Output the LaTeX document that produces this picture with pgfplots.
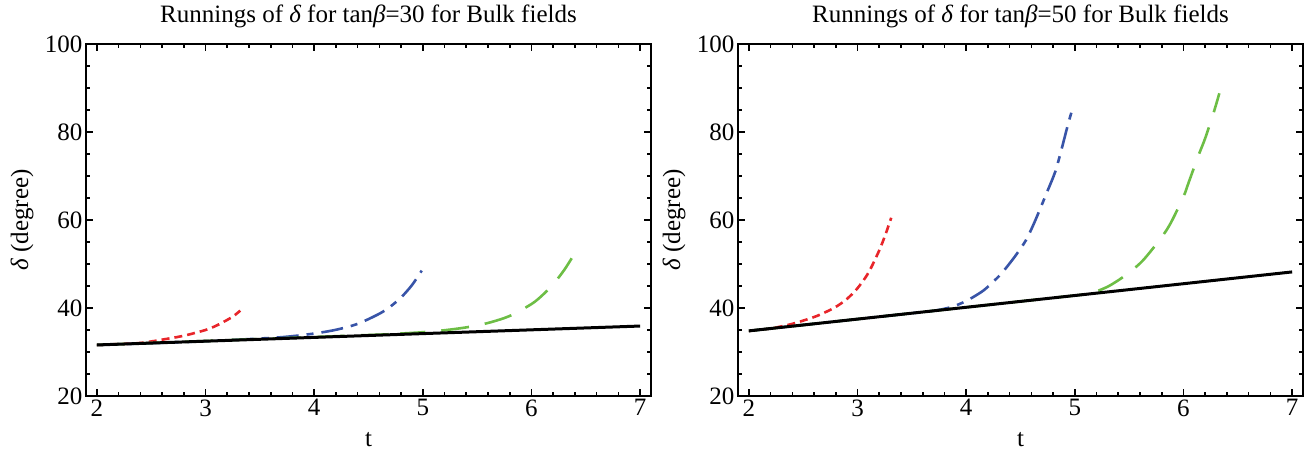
\documentclass[border=0pt]{standalone}
\usepackage{fontspec}
\setmainfont{Liberation Serif}
\usepackage{pgfplots}
\pgfplotsset{compat=1.18}
\definecolor{cred}{RGB}{232,37,42}
\definecolor{cblue}{RGB}{56,84,168}
\definecolor{cgreen}{RGB}{109,190,69}
\newcommand{\bigf}{\fontsize{25bp}{30bp}\selectfont}
\pgfplotsset{
  mm/.style={
    scale only axis, width=565bp, height=352bp,
    xmin=1.9, xmax=7.1, ymin=20, ymax=100,
    xtick={2,3,4,5,6,7}, ytick={20,40,60,80,100},
    minor x tick num=4, minor y tick num=3,
    tick align=inside, xticklabel pos=bottom, yticklabel pos=left,
    xtick pos=both, ytick pos=both,
    major tick length=7bp, minor tick length=4bp,
    every tick/.style={black, line width=1.6bp},
    axis line style={line width=2.6bp},
    tick label style={font=\bigf},
    /pgf/number format/assume math mode=true,
    xlabel={t}, ylabel={{\itshape δ} (degree)},
    xlabel style={font=\bigf, at={(axis description cs:0.5,-0.125)}, anchor=center},
    ylabel style={font=\bigf, at={(axis description cs:-0.1133,0.5)}, anchor=center},
    title style={font=\bigf, at={(axis description cs:0.5,1.0625)}, anchor=center},
    clip=false,
  },
  redl/.style={cred, line width=2.6bp, dash pattern=on 8bp off 5bp, smooth},
  bluel/.style={cblue, line width=2.6bp, dash pattern=on 22bp off 8bp on 7bp off 8bp, smooth},
  greenl/.style={cgreen, line width=2.6bp, dash pattern=on 28bp off 16bp, smooth},
  blackl/.style={black, line width=3bp},
}
\begin{document}
\begin{tikzpicture}
\begin{axis}[mm, at={(0,0)}, anchor=south west,
  title={Runnings of {\itshape δ} for tan{\itshape β}=30 for Bulk fields}]
\addplot[redl] coordinates {(2,31.6) (2.2,31.8) (2.4,32.05) (2.6,32.8) (2.8,33.7) (3.0,35.0) (3.1,36.0) (3.2,37.3) (3.26,38.2) (3.32,39.4)};
\addplot[bluel] coordinates {(2,31.6) (3.0,32.46) (3.6,33.2) (3.8,33.6) (4.0,34.2) (4.2,35.05) (4.4,36.4) (4.6,38.7) (4.7,40.3) (4.8,42.4) (4.9,45.2) (4.99,48.5)};
\addplot[greenl] coordinates {(2,31.6) (4.6,33.95) (4.8,34.2) (5.0,34.5) (5.2,34.95) (5.4,35.6) (5.6,36.6) (5.8,38.2) (6.0,40.9) (6.1,42.9) (6.2,45.4) (6.3,48.6) (6.37,51.3)};
\addplot[blackl] coordinates {(2,31.6) (4.5,33.75) (7,35.9)};
\end{axis}
\begin{axis}[mm, at={(652bp,0)}, anchor=south west,
  title={Runnings of {\itshape δ} for tan{\itshape β}=50 for Bulk fields}]
\addplot[redl] coordinates {(2,34.8) (2.2,35.35) (2.4,36.4) (2.6,37.95) (2.7,39.0) (2.8,40.25) (2.9,42.0) (3.0,44.5) (3.1,48.0) (3.2,53.1) (3.26,56.9) (3.31,60.5)};
\addplot[bluel] coordinates {(2,34.8) (3.0,37.48) (3.5,38.82) (3.7,39.36) (3.86,40.2) (4.0,41.6) (4.16,44.0) (4.3,47.2) (4.37,49.2) (4.46,52.1) (4.55,55.4) (4.62,59.0) (4.68,62.5) (4.74,66.1) (4.82,71.0) (4.88,76.3) (4.94,82.0) (4.985,85.8)};
\addplot[greenl] coordinates {(2,34.8) (4.6,41.77) (5.0,42.84) (5.14,43.3) (5.29,44.7) (5.4,46.3) (5.51,48.25) (5.63,50.9) (5.79,55.8) (5.88,59.2) (6.0,65.3) (6.05,68.7) (6.14,74.8) (6.20,78.6) (6.28,84.6) (6.33,88.8)};
\addplot[blackl] coordinates {(2,34.8) (4.5,41.5) (7,48.2)};
\end{axis}
\pgfresetboundingbox
\path (-86bp,-60bp) rectangle (1219bp,396bp);
\end{tikzpicture}
\end{document}
